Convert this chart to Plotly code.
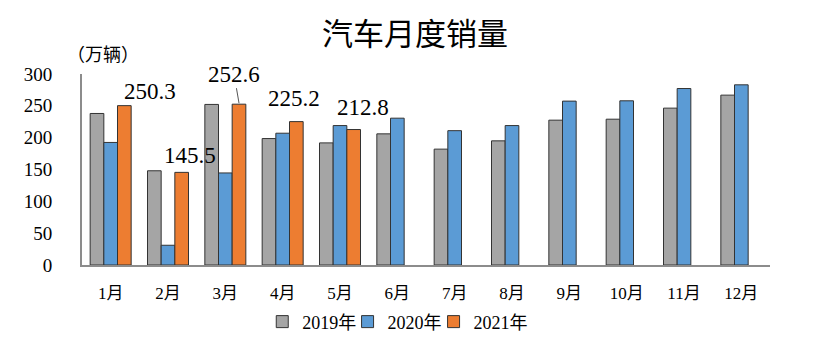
import plotly.graph_objects as go

months = ["1月", "2月", "3月", "4月", "5月", "6月", "7月", "8月", "9月", "10月", "11月", "12月"]
sales_2019 = [238, 148, 252.2, 198.6, 191.8, 206, 182, 195, 227.5, 229, 246.4, 266.8]
sales_2020 = [192.5, 31, 144.6, 207, 219, 230.6, 211, 219, 257.4, 257.9, 277.2, 283]
sales_2021 = [250.3, 145.5, 252.6, 225.2, 212.8, None, None, None, None, None, None, None]
series_names = ["2019年", "2020年", "2021年"]
colors = ["#A5A5A5", "#5B9BD5", "#ED7D31"]

CJK = "Liberation Serif, Noto Sans CJK SC, serif"
legend_ids = ["legend", "legend2", "legend3"]
legend_x = [0.262, 0.386, 0.511]

fig = go.Figure()
for name, vals, col, lg in zip(series_names, [sales_2019, sales_2020, sales_2021], colors, legend_ids):
    fig.add_trace(go.Bar(
        x=months, y=vals, name=name, legend=lg, showlegend=True,
        marker=dict(color=col, line=dict(color="#333333", width=1)),
    ))

# labels for 2021 values (manually placed in the original)
label_specs = [  # (month index, xshift, yshift)
    (0, 39, 14),
    (1, 22, 17),
    (3, 11, 23),
    (4, 23, 22),
]
for idx, xs, ys in label_specs:
    fig.add_annotation(
        x=months[idx], y=sales_2021[idx], xref="x", yref="y",
        text=f"{sales_2021[idx]:.1f}", showarrow=False,
        xshift=xs, yshift=ys, yanchor="middle",
        font=dict(family=CJK, size=23, color="#000000"),
    )
# 252.6 with leader line
fig.add_annotation(
    x=months[2], y=sales_2021[2], xref="x", yref="y",
    text=f"{sales_2021[2]:.1f}", showarrow=True, arrowhead=0,
    arrowwidth=1, arrowcolor="#555555",
    xshift=13.7, yshift=1, ax=-5, ay=-29, standoff=0,
    font=dict(family=CJK, size=23, color="#000000"),
)

fig.add_annotation(
    x=-0.024, y=1.11, xref="paper", yref="paper",
    text="（万辆）", showarrow=False, xanchor="left", yanchor="middle",
    font=dict(family="Noto Sans CJK SC", size=18, color="#000000"),
)

legend_common = dict(orientation="h", y=-0.298, xanchor="left", yanchor="middle",
                     bgcolor="rgba(0,0,0,0)", itemclick=False,
                     font=dict(family=CJK, size=18, color="#000000"))

fig.update_layout(
    width=820, height=346,
    showlegend=True,
    margin=dict(l=82, r=50, t=74, b=81, autoexpand=False),
    paper_bgcolor="white", plot_bgcolor="white",
    barmode="group", bargap=0.285, bargroupgap=0,
    title=dict(text="汽车月度销量", x=0.506, xanchor="center", y=0.9, yanchor="middle",
               font=dict(family="Noto Sans CJK SC", size=31, color="#000000")),
    font=dict(family=CJK, color="#000000"),
    legend=dict(x=legend_x[0], **legend_common),
    legend2=dict(x=legend_x[1], **legend_common),
    legend3=dict(x=legend_x[2], **legend_common),
    xaxis=dict(showline=True, linecolor="#8C8C8C", linewidth=2, ticks="",
               tickfont=dict(family=CJK, size=17), ticklabelstandoff=12,
               showgrid=False),
    yaxis=dict(range=[0, 300], dtick=50, showline=True, linecolor="#8C8C8C", linewidth=2,
               ticks="", showgrid=False, zeroline=False,
               tickfont=dict(family=CJK, size=19), ticklabelstandoff=24),
)

fig.write_html("out.html")
